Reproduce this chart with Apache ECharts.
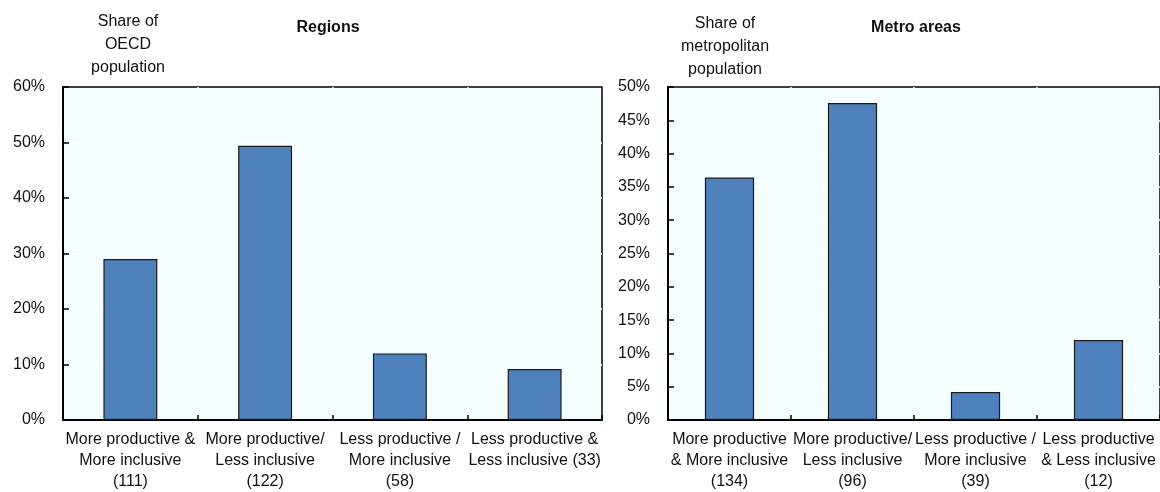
<!DOCTYPE html>
<html>
<head>
<meta charset="utf-8">
<script src="https://cdn.jsdelivr.net/npm/echarts@6/dist/echarts.min.js"></script>
<style>
  html, body { margin: 0; padding: 0; background: #fff; }
  #chart { width: 1160px; height: 492px; }
</style>
</head>
<body>
<div id="chart"></div>
<script>
// Regions: share of OECD population by productivity / inclusiveness group
const regionCategories = [
  'More productive &\nMore inclusive\n(111)',
  'More productive/\nLess inclusive\n(122)',
  'Less productive /\nMore inclusive\n(58)',
  'Less productive &\nLess inclusive (33)'
];
const regionShares = [29.0, 49.4, 12.0, 9.2];

// Metro areas: share of metropolitan population
const metroCategories = [
  'More productive\n& More inclusive\n(134)',
  'More productive/\nLess inclusive\n(96)',
  'Less productive /\nMore inclusive\n(39)',
  'Less productive\n& Less inclusive\n(12)'
];
const metroShares = [36.4, 47.6, 4.2, 12.0];

const regionTicks = { min: 0, max: 60, interval: 10 };
const metroTicks = { min: 0, max: 50, interval: 5 };

const FONT = '"Liberation Sans", Arial, sans-serif';
const TEXT = '#111111';
const PLOT_BG = '#F2FEFF';
const BAR = '#4F81BD';

function catAxis(gridIndex, data) {
  return {
    type: 'category',
    gridIndex,
    data,
    axisLine: { show: true, lineStyle: { color: '#000', width: 2 } },
    axisTick: { show: true, inside: true, length: 5, alignWithLabel: false, lineStyle: { color: '#000', width: 1.5 } },
    splitLine: { show: true, showMinLine: false, showMaxLine: false, lineStyle: { color: '#ffffff', width: 1.5 } },
    axisLabel: {
      interval: 0, margin: 9, color: TEXT, fontFamily: FONT, fontSize: 16, lineHeight: 21
    }
  };
}

function valAxis(gridIndex, t) {
  return {
    type: 'value',
    gridIndex,
    min: t.min, max: t.max, interval: t.interval,
    axisLine: { show: true, lineStyle: { color: '#000', width: 2 } },
    axisTick: { show: true, inside: true, length: 6, lineStyle: { color: '#000', width: 1.5 } },
    splitLine: { show: true, showMinLine: false, showMaxLine: false, lineStyle: { color: '#ffffff', width: 1.5 } },
    axisLabel: {
      margin: 18, color: TEXT, fontFamily: FONT, fontSize: 16,
      formatter: v => v + '%'
    }
  };
}

function barSeries(idx, data) {
  return {
    type: 'bar',
    xAxisIndex: idx, yAxisIndex: idx,
    data,
    barWidth: '40%',
    itemStyle: { color: BAR, borderColor: '#1b1b1b', borderWidth: 1.2 },
    silent: true
  };
}

const chart = echarts.init(document.getElementById('chart'), null, { renderer: 'canvas' });
chart.setOption({
  animation: false,
  backgroundColor: '#ffffff',
  textStyle: { fontFamily: FONT },
  title: [
    { text: 'Regions', left: 323, top: 15, textAlign: 'center',
      textStyle: { fontFamily: FONT, fontSize: 16, fontWeight: 'bold', color: TEXT } },
    { text: 'Metro areas', left: 911, top: 15, textAlign: 'center',
      textStyle: { fontFamily: FONT, fontSize: 16, fontWeight: 'bold', color: TEXT } },
    { text: 'Share of\nOECD\npopulation', left: 123, top: 5, textAlign: 'center',
      textStyle: { fontFamily: FONT, fontSize: 16, fontWeight: 'normal', color: TEXT, lineHeight: 23 } },
    { text: 'Share of\nmetropolitan\npopulation', left: 720, top: 7, textAlign: 'center',
      textStyle: { fontFamily: FONT, fontSize: 16, fontWeight: 'normal', color: TEXT, lineHeight: 23 } }
  ],
  grid: [
    { left: 63, right: 558, top: 87, bottom: 72, show: true,
      backgroundColor: PLOT_BG, borderColor: '#000', borderWidth: 1.5 },
    { left: 668, right: -2, top: 87, bottom: 72, show: true,
      backgroundColor: PLOT_BG, borderColor: '#000', borderWidth: 1.5 }
  ],
  xAxis: [catAxis(0, regionCategories), catAxis(1, metroCategories)],
  yAxis: [valAxis(0, regionTicks), valAxis(1, metroTicks)],
  series: [barSeries(0, regionShares), barSeries(1, metroShares)]
});
</script>
</body>
</html>
